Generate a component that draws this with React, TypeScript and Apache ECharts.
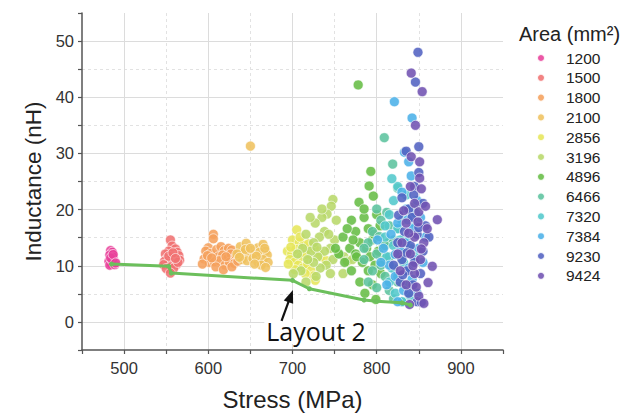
import React, { useEffect, useRef } from "react";
import * as echarts from "echarts";

const areas = ["1200", "1500", "1800", "2100", "2856", "3196", "4896", "6466", "7320", "7384", "9230", "9424"];
const areaColors = ["#e8409a", "#f07272", "#f5a15c", "#efc25e", "#e6e65a", "#b8d86a", "#66bd46", "#5cc39e", "#52c8cc", "#4bb0e8", "#5262c2", "#7152b2"];

const a1200 = [[484,12.7],[486,12.4],[483,11.9],[487,11.5],[485,11.1],[482,10.8],[488,10.6],[485,10.3],[483,10.1],[489,10.2],[486,10.9],[484,11.4],[487,12.0],[490,10.5]];
const a1500 = [[555,14.6],[557,13.5],[561,13.0],[553,12.6],[563,12.4],[549,12.1],[556,12.0],[559,11.6],[565,11.8],[551,11.3],[554,11.0],[560,10.9],[566,11.0],[548,10.8],[552,10.4],[557,10.5],[562,10.2],[547,10.2],[555,9.8],[550,9.5],[559,9.6],[555,8.7],[564,10.6],[553,11.7],[558,12.3],[561,11.3]];
const a1800 = [[606,15.6],[606,14.8],[600,13.2],[597,12.6],[603,12.2],[610,12.9],[615,13.4],[619,12.7],[624,13.1],[628,12.8],[612,11.6],[617,11.9],[623,11.3],[627,12.1],[633,11.6],[595,11.2],[601,10.6],[607,10.7],[613,10.9],[620,10.1],[625,10.6],[631,10.4],[609,9.8],[618,9.3],[628,9.8],[593,10.3],[599,11.8],[636,12.2],[635,10.8],[604,11.4],[621,11.6]];
const a2100 = [[650,31.3],[638,13.4],[645,14.0],[652,12.7],[659,13.2],[665,13.8],[668,12.6],[642,12.3],[648,11.7],[655,12.1],[661,12.4],[670,11.9],[640,11.1],[646,10.9],[653,11.3],[659,10.6],[665,11.1],[671,10.6],[644,12.9],[657,11.7],[663,10.1],[668,9.7],[650,13.1],[634,12.1],[637,11.5],[655,10.3],[667,13.1]];
const a2856 = [[705,16.4],[700,14.6],[708,14.1],[713,13.6],[694,12.6],[699,12.1],[704,12.9],[710,11.6],[716,12.1],[720,11.1],[697,11.1],[702,10.6],[707,10.1],[712,9.6],[718,10.3],[722,9.1],[725,8.2],[727,7.4],[715,8.6],[703,9.3],[730,12.6],[726,13.1],[719,13.9],[733,11.6],[709,15.1],[695,10.3],[740,10.9],[698,13.3]];
const a3196 = [[748,21.8],[746,20.6],[741,19.2],[735,18.6],[727,17.6],[721,18.6],[738,16.1],[732,15.1],[725,14.1],[716,15.6],[750,14.6],[745,13.1],[738,12.6],[730,11.6],[722,12.6],[712,13.1],[755,12.1],[761,11.6],[748,11.1],[740,10.1],[733,9.6],[725,10.6],[718,11.1],[710,9.1],[701,8.6],[716,7.1],[728,8.1],[745,8.6],[760,8.6],[765,10.8],[771,11.1],[706,12.1],[735,20.1],[752,18.1],[743,15.6],[729,13.3]];
const a4896 = [[778,42.2],[793,26.8],[791,24.2],[779,21.3],[796,22.4],[770,18.1],[785,18.6],[800,19.1],[775,16.1],[790,16.6],[804,17.1],[760,15.1],[780,14.1],[795,14.6],[768,13.1],[788,13.1],[802,12.6],[755,12.1],[775,12.1],[792,11.6],[809,11.1],[762,10.6],[783,10.6],[798,10.1],[770,9.1],[790,9.1],[805,8.6],[780,7.1],[795,6.6],[786,5.1],[799,4.0],[776,11.6],[751,13.1],[814,14.1],[765,16.6],[785,20.1],[797,15.6],[808,13.6],[772,14.6]];
const a6466 = [[809,32.8],[819,28.1],[800,20.1],[805,18.1],[815,17.1],[795,16.1],[825,16.6],[790,14.1],[810,13.6],[820,14.6],[800,12.1],[815,11.6],[785,11.1],[830,12.1],[805,10.1],[795,9.1],[820,9.6],[810,8.1],[790,7.1],[825,7.1],[815,5.6],[800,6.1],[820,4.1],[830,3.6],[835,14.1],[785,13.1],[812,19.5],[825,23.8],[803,15.2]];
const a7320 = [[825,24.1],[835,22.6],[820,21.6],[840,19.6],[830,18.1],[815,19.1],[845,17.6],[825,16.6],[810,15.1],[835,15.1],[820,13.6],[840,13.1],[828,12.1],[812,11.6],[832,10.6],[845,11.6],[818,9.6],[838,9.1],[825,8.1],[815,7.1],[835,6.6],[822,5.1],[840,4.6],[830,3.6],[845,20.6],[810,17.1],[818,25.5],[828,14.6]];
const a7384 = [[821,39.2],[842,36.3],[838,28.5],[841,26.0],[830,23.1],[848,21.6],[835,20.1],[852,18.6],[825,17.6],[843,16.6],[858,15.1],[817,15.6],[834,14.1],[850,13.1],[808,13.1],[828,12.6],[845,11.1],[815,10.1],[838,9.6],[855,10.6],[822,8.1],[842,7.6],[812,6.6],[832,5.6],[848,5.1],[825,3.6],[801,14.6],[805,10.6],[833,30.2],[837,18.2],[822,12.0],[846,19.4]];
const a9230 = [[849,48.0],[846,42.7],[850,31.2],[835,30.4],[850,26.6],[845,24.1],[830,22.1],[838,20.1],[855,21.1],[842,18.6],[858,17.1],[833,16.1],[848,15.6],[825,14.1],[840,13.6],[855,12.6],[830,11.1],[845,10.6],[820,10.1],[836,9.1],[852,8.6],[828,7.1],[843,6.6],[838,5.1],[848,3.6],[853,3.5],[862,15.1],[826,19.0],[836,12.3],[850,16.8],[831,8.4],[844,22.6]];
const a9424 = [[841,44.3],[854,41.0],[846,35.0],[841,29.4],[851,28.5],[851,25.6],[853,23.7],[840,24.1],[845,21.1],[872,18.2],[850,19.6],[860,16.6],[835,17.6],[845,15.1],[856,14.1],[830,14.1],[840,12.1],[852,11.1],[866,9.9],[828,9.1],[845,8.6],[861,7.0],[835,6.6],[850,4.6],[839,3.1],[856,3.3],[858,20.6],[825,12.1],[849,17.8],[843,10.0],[838,15.8],[853,13.0],[832,19.8],[847,6.2]];

const seriesValues = [a1200, a1500, a1800, a2100, a2856, a3196, a4896, a6466, a7320, a7384, a9230, a9424];

const layout2Line = [[485,10.3],[553,9.9],[556,8.7],[700,7.4],[720,5.9],[785,3.9],[800,3.7],[830,3.4],[840,3.0]];
const arrowTail = [687, 0.2];
const arrowHead = [700.5, 5.7];
const annotationText = "Layout 2";
const annotationAt = [728, -1.7];

const FONT = "'Liberation Sans', Arial, sans-serif";

export default function App() {
  const ref = useRef<HTMLDivElement>(null);
  useEffect(() => {
    const chart = echarts.init(ref.current!, null, { renderer: "svg" });
    const scatterSeries = areas.map((name, i) => ({
      name,
      type: "scatter",
      xAxisIndex: 0,
      yAxisIndex: 0,
      data: seriesValues[i],
      symbolSize: 10,
      itemStyle: { color: areaColors[i], borderColor: "#ffffff", borderWidth: 0.7, opacity: 0.88 },
      emphasis: { disabled: true },
    }));
    const option: any = {
      animation: false,
      backgroundColor: "#ffffff",
      grid: { left: 82, right: 131, top: 13, bottom: 64, containLabel: false },
      title: {
        text: "Area (mm²)",
        left: 519,
        top: 24,
        padding: 0,
        textStyle: { fontSize: 20, fontWeight: "normal", color: "#222", fontFamily: FONT },
      },
      legend: {
        orient: "vertical",
        left: 536,
        top: 50,
        padding: 0,
        itemWidth: 34,
        itemHeight: 8,
        itemGap: 3.8,
        icon: "circle",
        data: areas,
        selectedMode: false,
        textStyle: { fontSize: 15.5, lineHeight: 15, color: "#222", fontFamily: FONT, padding: [0, 0, 0, 3] },
      },
      xAxis: [
        {
          type: "value",
          min: 450,
          max: 950,
          interval: 50,
          position: "bottom",
          name: "Stress (MPa)",
          nameLocation: "middle",
          nameGap: 37,
          nameTextStyle: { fontSize: 24, color: "#222", fontFamily: FONT },
          axisLine: { show: true, onZero: false, lineStyle: { color: "#555", width: 1.5 } },
          axisTick: { show: true, inside: false, length: 4, lineStyle: { color: "#555", width: 1.2 } },
          axisLabel: {
            fontSize: 16.5,
            color: "#333",
            fontFamily: FONT,
            margin: 9,
            formatter: (v: number) => (v % 100 === 0 ? String(v) : ""),
          },
          splitLine: { show: true, lineStyle: { color: ["rgba(0,0,0,0)", "#dcdcdc"], width: 1, type: "solid" } },
        },
        {
          type: "value",
          min: 450,
          max: 950,
          interval: 100,
          position: "bottom",
          axisLine: { show: false },
          axisTick: { show: false },
          axisLabel: { show: false },
          splitLine: { show: true, showMinLine: false, showMaxLine: false, lineStyle: { color: "#e2e2e2", width: 1, type: [3, 3] } },
        },
      ],
      yAxis: [
        {
          type: "value",
          min: -5,
          max: 55,
          interval: 5,
          position: "left",
          name: "Inductance (nH)",
          nameLocation: "middle",
          nameGap: 37.5,
          nameRotate: 90,
          nameTextStyle: { fontSize: 22.5, color: "#222", fontFamily: FONT },
          axisLine: { show: true, onZero: false, lineStyle: { color: "#555", width: 1.5 } },
          axisTick: { show: true, inside: false, length: 4, lineStyle: { color: "#555", width: 1.2 } },
          axisLabel: {
            fontSize: 16.5,
            color: "#333",
            fontFamily: FONT,
            margin: 8,
            formatter: (v: number) => (v % 10 === 0 ? String(v) : ""),
          },
          splitLine: { show: true, lineStyle: { color: ["rgba(0,0,0,0)", "#dcdcdc"], width: 1, type: "solid" } },
        },
        {
          type: "value",
          min: -5,
          max: 55,
          interval: 10,
          position: "left",
          axisLine: { show: false },
          axisTick: { show: false },
          axisLabel: { show: false },
          splitLine: { show: true, showMinLine: false, showMaxLine: false, lineStyle: { color: "#e2e2e2", width: 1, type: [3, 3] } },
        },
      ],
      series: [
        ...scatterSeries,
        {
          name: "Layout 2 line",
          type: "line",
          xAxisIndex: 0,
          yAxisIndex: 0,
          data: layout2Line,
          symbol: "circle",
          symbolSize: 5,
          showSymbol: true,
          lineStyle: { color: "#6cbf5c", width: 3 },
          itemStyle: { color: "#6cbf5c" },
          emphasis: { disabled: true },
          z: 3,
        },
      ],
    };
    chart.setOption(option);

    const finder = { xAxisIndex: 0, yAxisIndex: 0 };
    const tail = chart.convertToPixel(finder, arrowTail) as number[];
    const head = chart.convertToPixel(finder, arrowHead) as number[];
    const txt = chart.convertToPixel(finder, annotationAt) as number[];
    const dx = head[0] - tail[0];
    const dy = head[1] - tail[1];
    const len = Math.sqrt(dx * dx + dy * dy);
    const ux = dx / len;
    const uy = dy / len;
    const nx = -uy;
    const ny = ux;
    const headLen = 13;
    const headHalf = 5;
    const bx = head[0] - ux * headLen;
    const by = head[1] - uy * headLen;

    chart.setOption({
      graphic: [
        {
          type: "text",
          x: txt[0],
          y: txt[1],
          z: 100,
          style: {
            text: annotationText,
            fontSize: 25,
            fontFamily: "'Open Sans', sans-serif",
            fill: "#111",
            align: "center",
            verticalAlign: "middle",
            backgroundColor: "#ffffff",
            padding: [0, 2],
          },
        },
        {
          type: "line",
          z: 100,
          shape: { x1: tail[0], y1: tail[1], x2: bx + ux * 2, y2: by + uy * 2 },
          style: { stroke: "#111", lineWidth: 2.2 },
        },
        {
          type: "polygon",
          z: 100,
          shape: {
            points: [
              [head[0], head[1]],
              [bx + nx * headHalf, by + ny * headHalf],
              [bx - nx * headHalf, by - ny * headHalf],
            ],
          },
          style: { fill: "#111" },
        },
      ],
    });

    return () => chart.dispose();
  }, []);
  return <div ref={ref} style={{ position: "fixed", left: 0, top: 0, width: 634, height: 416 }} />;
}
